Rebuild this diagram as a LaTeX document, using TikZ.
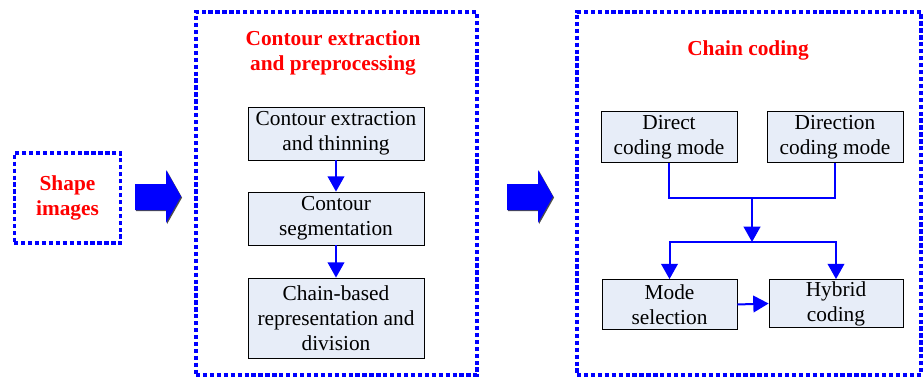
\documentclass[tikz,border=0pt]{standalone}
\usepackage{fontspec}
\setmainfont{Liberation Serif}
\usepackage{tikz}
\usetikzlibrary{arrows.meta, shadows}
\definecolor{flowblue}{RGB}{0,0,255}
\definecolor{titlered}{RGB}{255,0,0}
\definecolor{boxfill}{RGB}{231,237,248}
\tikzset{
  procbox/.style={rectangle, draw=black, fill=boxfill, line width=0.6pt,
    align=center, inner sep=0pt, font=\fontsize{16}{18.75}\selectfont},
  stagebox/.style={rectangle, draw=flowblue, line width=2.3pt,
    dash pattern=on 3.2pt off 2pt, inner sep=0pt},
  stagetitle/.style={align=center, text=titlered,
    font=\fontsize{16}{18.75}\selectfont\bfseries},
  bigarrow/.style={fill=flowblue,
    drop shadow={shadow xshift=0.8pt, shadow yshift=-0.8pt, fill=black!70, opacity=1}},
  flow/.style={-{Triangle[width=12.5pt, length=11.5pt]}, line width=1.5pt, color=flowblue},
  link/.style={line width=1.5pt, color=flowblue}
}

\begin{document}
\begin{tikzpicture}[x=0.75pt, y=-0.75pt]
  \useasboundingbox (0,0) rectangle (923,378);

  % input
  \node[stagebox, minimum width=80pt, minimum height=67.5pt] (input) at (67.5,198) {};
  \node[stagetitle] (inputlbl) at (67.5,198) {Shape\\images};

  % block arrows between the stages
  \foreach \ax in {135,507}
    \path[bigarrow] (\ax,184) -- ++(31,0) -- ++(0,-14) -- ++(15,26.5)
      -- ++(-15,26.5) -- ++(0,-13) -- ++(-31,0) -- cycle;

  % contour stage
  \node[stagebox, minimum width=210.75pt, minimum height=272.25pt] (stageA) at (336.5,193.5) {};
  \node[stagetitle] (titleA) at (333,52.5) {Contour extraction\\and preprocessing};
  \node[procbox, minimum width=132pt, minimum height=39.75pt] (extract) at (336,133.5) {Contour extraction\\and thinning};
  \node[procbox, minimum width=132pt, minimum height=39.75pt] (segment) at (336,218.5) {Contour\\segmentation};
  \node[procbox, minimum width=132pt, minimum height=60pt] (chain) at (336,318) {Chain-based\\representation and\\division};
  \draw[flow] (extract) -- (segment);
  \draw[flow] (segment) -- (chain);

  % coding stage
  \node[stagebox, minimum width=258pt, minimum height=272.25pt] (stageB) at (749,193.5) {};
  \node[stagetitle] (titleB) at (748,50) {Chain coding};
  \node[procbox, minimum width=102pt, minimum height=38.25pt] (direct) at (669,137) {Direct\\coding mode};
  \node[procbox, minimum width=102pt, minimum height=38.25pt] (direction) at (835,137) {Direction\\coding mode};
  \node[procbox, minimum width=101.25pt, minimum height=37.5pt] (select) at (669.5,304.5) {Mode\\selection};
  \node[procbox, minimum width=100.5pt, minimum height=36pt] (hybrid) at (836,303.5) {Hybrid\\coding};

  \coordinate (join) at (752,198);
  \coordinate (split) at (752,242);
  \draw[link] (direct.south) |- (join) -| (direction.south);
  \draw[flow] (join) -- (split);
  \draw[flow] (split) -| (select.north);
  \draw[flow] (split) -| (hybrid.north);
  \draw[flow] (select.east) -- (hybrid.west);
\end{tikzpicture}
\end{document}
